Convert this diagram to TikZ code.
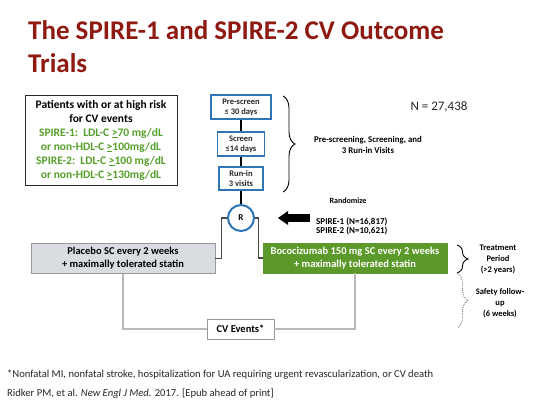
\documentclass[tikz,border=0pt]{standalone}
\usepackage{fontspec}
\setmainfont{Carlito}
\usepackage{xcolor}
\usepackage{tikz}
\usetikzlibrary{arrows.meta,decorations.pathreplacing}
\definecolor{spireRed}{HTML}{8E1A12}
\definecolor{spireBlue}{HTML}{2E75B6}
\definecolor{spireGreen}{HTML}{5B9A2A}
\definecolor{spireLime}{HTML}{55A02A}
\definecolor{spireGrey}{HTML}{D9DDE1}
\definecolor{spireInk}{HTML}{262626}
\tikzset{
    spire/title/.style={
        anchor=base west, align=left, text=spireRed,
        font=\fontsize{27}{33}\selectfont\bfseries, inner sep=0pt
    },
    spire/criteria/.style={
        rectangle, draw=spireInk, line width=0.9pt, fill=white,
        align=center, font=\fontsize{11.5}{14}\selectfont\bfseries,
        inner sep=0pt
    },
    spire/step box/.style={
        rectangle, draw=spireBlue, line width=1.5pt, fill=white,
        text=spireInk, align=center,
        font=\fontsize{8.5}{10}\selectfont\bfseries, inner sep=0pt
    },
    spire/randomise/.style={
        circle, draw=spireBlue, line width=2pt, fill=white,
        minimum size=26pt, inner sep=0pt,
        font=\fontsize{9}{10}\selectfont\bfseries
    },
    spire/arm/.style={
        rectangle, align=center, inner sep=0pt,
        font=\fontsize{10.5}{13}\selectfont\bfseries,
        minimum width=184pt, minimum height=30pt
    },
    spire/placebo/.style={
        spire/arm, draw=gray!80, fill=spireGrey, text=black, line width=0.9pt
    },
    spire/active/.style={
        spire/arm, draw=spireGreen, fill=spireGreen, text=white
    },
    spire/events/.style={
        rectangle, draw=gray!80, fill=white, line width=0.9pt,
        font=\fontsize{10.5}{12}\selectfont\bfseries, text=black,
        minimum width=67pt, minimum height=20pt, inner sep=0pt
    },
    spire/step line/.style={draw=black, line width=2pt},
    spire/arm line/.style={draw=spireInk!85, line width=1.3pt},
    spire/event line/.style={draw=gray!55, line width=1.2pt},
    spire/big arrow/.style={
        draw=black, line width=8pt,
        -{Triangle[length=10pt,width=14pt,line width=0pt]}
    },
    spire/brace/.style={
        draw=black, line width=0.9pt,
        decorate, decoration={brace, amplitude=#1}
    },
    spire/dotted brace/.style={
        spire/brace=#1, draw=gray, densely dotted
    },
    spire/note/.style={
        align=center, text=black, inner sep=0pt,
        font=\fontsize{8.5}{11}\selectfont\bfseries
    },
    spire/footer/.style={
        anchor=base west, text=spireInk, inner sep=0pt,
        font=\fontsize{10.6}{12}\selectfont
    }
}
\newcommand{\atleast}{\underline{>}}

\begin{document}
\begin{tikzpicture}[x=1pt, y=-1pt]
    \useasboundingbox[fill=white] (0,0) rectangle (540,405);

    \node[spire/title] (title) at (28,72)
        {The SPIRE-1 and SPIRE-2 CV Outcome\\Trials};

    \node[spire/criteria, minimum width=152pt, minimum height=90pt]
        (criteria) at (101,140)
        {Patients with or at high risk\\for CV events\\
         \textcolor{spireLime}{SPIRE-1:\ \ LDL-C \atleast70 mg/dL}\\
         \textcolor{spireLime}{or non-HDL-C \atleast100mg/dL}\\
         \textcolor{spireLime}{SPIRE-2:\ \ LDL-C \atleast100 mg/dL}\\
         \textcolor{spireLime}{or non-HDL-C \atleast130mg/dL}};

    \node[spire/step box, minimum width=60pt, minimum height=24pt]
        (prescreen) at (241,107) {Pre-screen\\≤ 30 days};
    \node[spire/step box, minimum width=47pt, minimum height=24pt]
        (screen) at (241,144) {Screen\\≤14 days};
    \node[spire/step box, minimum width=44pt, minimum height=23pt]
        (runin) at (241,178.5) {Run-in\\3 visits};
    \node[spire/randomise] (rand) at (241,218) {R};

    \node[spire/placebo] (placebo) at (123,258.5)
        {Placebo SC every 2 weeks\\+ maximally tolerated statin};
    \node[spire/active] (active) at (355,258)
        {Bococizumab 150 mg SC every 2 weeks\\+ maximally tolerated statin};
    \node[spire/events] (events) at (240.5,329) {CV Events*};

    \node[font=\fontsize{13}{15}\selectfont, text=spireInk] (total)
        at (439,107) {N = 27,438};

    \coordinate (screenTop) at (283,96);
    \coordinate (screenBottom) at (283,192);
    \draw[spire/brace=12pt] (screenTop) -- (screenBottom);
    \node[spire/note, font=\fontsize{8.8}{11}\selectfont\bfseries]
        (screenNote) at (368,144.5)
        {Pre-screening, Screening, and\\3 Run-in Visits};

    \node[spire/note, font=\fontsize{8}{10}\selectfont\bfseries]
        (randNote) at (348,201) {Randomize};
    \node[spire/note, align=left, anchor=west,
          font=\fontsize{9}{9.3}\selectfont\bfseries]
        (randCounts) at (316,226.5)
        {SPIRE-1 (N=16,817)\\SPIRE-2 (N=10,621)};
    \coordinate (arrowTail) at (310,218);
    \coordinate (arrowTip) at (278,218);
    \draw[spire/big arrow] (arrowTail) -- (arrowTip);

    \coordinate (treatTop) at (457,245);
    \coordinate (treatBottom) at (457,273);
    \draw[spire/brace=11pt] (treatTop) -- (treatBottom);
    \node[spire/note] (treatNote) at (498,259)
        {Treatment\\Period\\(>2 years)};

    \coordinate (safetyBottom) at (457,328);
    \draw[spire/dotted brace=11pt] (treatBottom) -- (safetyBottom);
    \node[spire/note] (safetyNote) at (500,303)
        {Safety follow-\\up\\(6 weeks)};

    \draw[spire/step line] (prescreen) -- (screen);
    \draw[spire/step line] (screen) -- (runin);
    \draw[spire/step line] (runin) -- (rand);
    \draw[spire/arm line] (placebo.east) -- ++(6,0) |- (rand.west);
    \draw[spire/arm line] (active.west) -- ++(-4,0) |- (rand.east);
    \draw[spire/event line] (placebo.south) |- (events.west);
    \draw[spire/event line] (active.south) |- (events.east);

    \node[spire/footer] (footnote) at (7,377)
        {*Nonfatal MI, nonfatal stroke, hospitalization for UA requiring
         urgent revascularization, or CV death};
    \node[spire/footer] (reference) at (7,396)
        {Ridker PM, et al. \textit{New Engl J Med.} 2017. [Epub ahead of print]};
\end{tikzpicture}
\end{document}
